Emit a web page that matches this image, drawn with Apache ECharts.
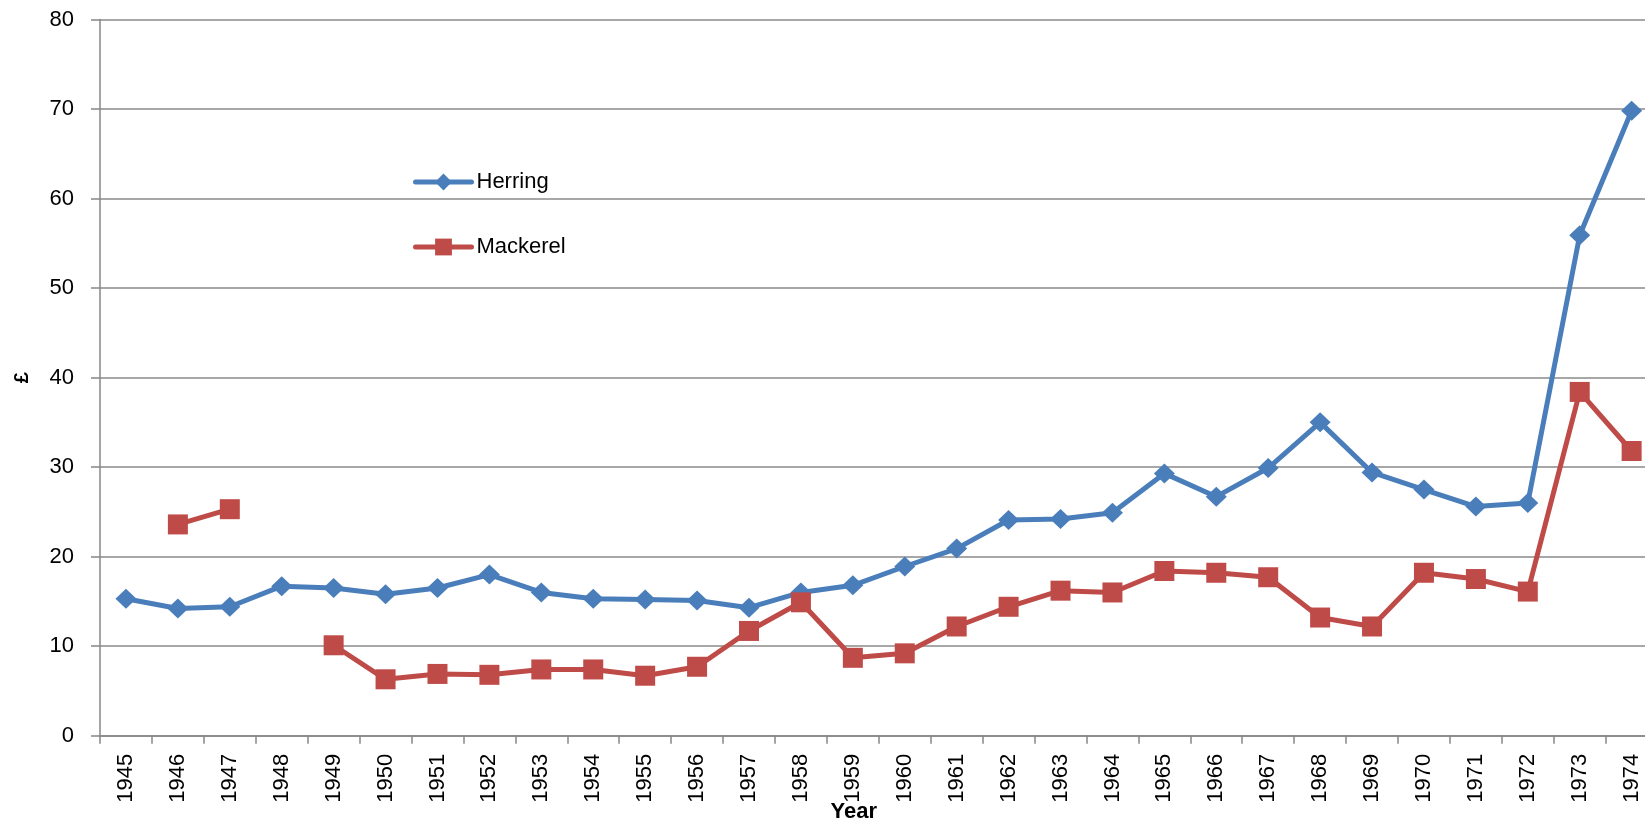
<!DOCTYPE html>
<html>
<head>
<meta charset="utf-8">
<style>
  html, body { margin: 0; padding: 0; background: #ffffff; }
  #chart { width: 1645px; height: 825px; }
</style>
<script src="https://cdn.jsdelivr.net/npm/echarts@6/dist/echarts.min.js"></script>
</head>
<body>
<div id="chart"></div>
<script>
var years = ['1945','1946','1947','1948','1949','1950','1951','1952','1953','1954',
             '1955','1956','1957','1958','1959','1960','1961','1962','1963','1964',
             '1965','1966','1967','1968','1969','1970','1971','1972','1973','1974'];

var herring = [15.3, 14.2, 14.4, 16.7, 16.5, 15.8, 16.5, 18.0, 16.0, 15.3,
               15.2, 15.1, 14.3, 16.0, 16.8, 18.9, 20.9, 24.1, 24.2, 24.9,
               29.3, 26.7, 29.9, 35.0, 29.4, 27.5, 25.6, 26.0, 55.9, 69.8];

var mackerel = [null, 23.6, 25.3, null, 10.1, 6.3, 6.9, 6.8, 7.4, 7.4,
                6.7, 7.7, 11.7, 14.9, 8.7, 9.2, 12.2, 14.4, 16.2, 16.0,
                18.4, 18.2, 17.7, 13.2, 12.2, 18.2, 17.5, 16.1, 38.4, 31.8];

var yTicks = { min: 0, max: 80, interval: 10 };

var FONT = 'Liberation Sans';
var chart = echarts.init(document.getElementById('chart'), null, { renderer: 'canvas' });

chart.setOption({
  animation: false,
  backgroundColor: '#ffffff',
  textStyle: { fontFamily: FONT },
  grid: {
    left: 100, top: 19.5, right: -12.6, bottom: 89.3,
    containLabel: false,
    outerBoundsMode: 'none'
  },
  legend: {
    orient: 'vertical',
    left: 413, top: 171,
    padding: 0,
    itemWidth: 56, itemHeight: 21, itemGap: 43,
    lineStyle: { width: 5, cap: 'round' },
    textStyle: { fontFamily: FONT, fontSize: 22, color: '#000000' },
    data: ['Herring', 'Mackerel']
  },
  xAxis: {
    type: 'category',
    data: years,
    boundaryGap: true,
    name: 'Year',
    nameLocation: 'middle',
    nameGap: 65,
    nameMoveOverlap: false,
    nameTextStyle: { fontFamily: FONT, fontSize: 22, fontWeight: 'bold', color: '#000000', padding: [0, 50, 0, 0] },
    axisLine: { show: true, lineStyle: { color: '#868686', width: 1.5 } },
    axisTick: { show: true, length: 8, alignWithLabel: false, interval: 0, lineStyle: { color: '#868686', width: 1.5 } },
    axisLabel: { interval: 0, rotate: 90, margin: 18, fontFamily: FONT, fontSize: 22, color: '#000000' },
    splitLine: { show: false }
  },
  yAxis: {
    type: 'value',
    min: yTicks.min, max: yTicks.max, interval: yTicks.interval,
    name: '£',
    nameLocation: 'middle',
    nameGap: 68,
    nameRotate: 90,
    nameMoveOverlap: false,
    nameTextStyle: { fontFamily: FONT, fontSize: 20, fontWeight: 'bold', color: '#000000' },
    axisLine: { show: true, lineStyle: { color: '#868686', width: 1.5 } },
    axisTick: { show: true, length: 9, lineStyle: { color: '#868686', width: 1.5 } },
    axisLabel: { margin: 26, fontFamily: FONT, fontSize: 22, color: '#000000' },
    splitLine: { show: true, lineStyle: { color: '#8a8a8a', width: 1.5 } }
  },
  series: [
    {
      name: 'Herring',
      type: 'line',
      data: herring,
      symbol: 'diamond',
      symbolSize: [21, 20],
      connectNulls: false,
      lineStyle: { color: '#4A7EBB', width: 5 },
      itemStyle: { color: '#4A7EBB', borderWidth: 0 },
      z: 3
    },
    {
      name: 'Mackerel',
      type: 'line',
      data: mackerel,
      symbol: 'rect',
      symbolSize: 20,
      connectNulls: false,
      lineStyle: { color: '#BE4B48', width: 5 },
      itemStyle: { color: '#BE4B48', borderWidth: 0 },
      z: 4
    }
  ]
});
</script>
</body>
</html>
